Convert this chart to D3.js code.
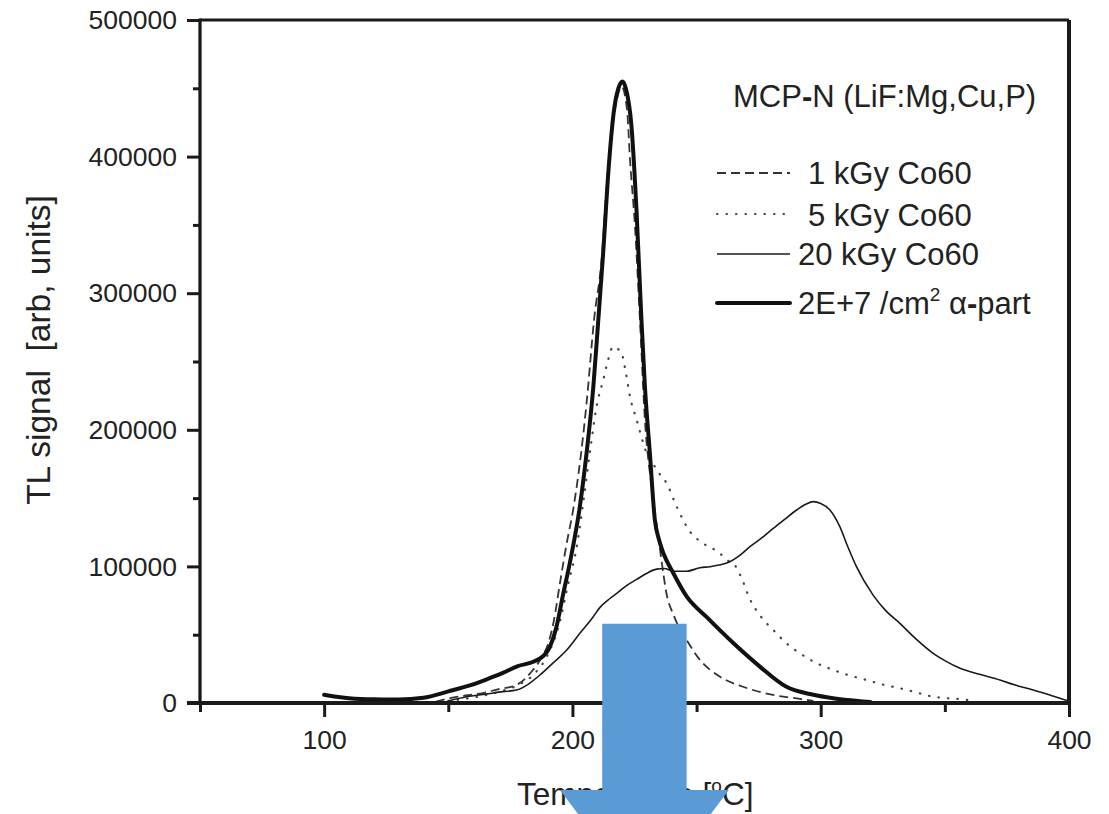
<!DOCTYPE html>
<html>
<head>
<meta charset="utf-8">
<script src="https://cdn.jsdelivr.net/npm/d3@7"></script>
<style>
  html, body { margin: 0; padding: 0; background: #fff; }
  svg text { font-family: "Liberation Sans", Arial, Helvetica, sans-serif; fill: #222; }
</style>
</head>
<body>
<svg id="chart" width="1109" height="814"></svg>
<script>
// Thermoluminescence glow curves of MCP-N (LiF:Mg,Cu,P)
// Temperature in deg C, TL signal in arbitrary units

const kGy1Temp = [145, 150.7, 157, 164, 170, 177.5, 184, 187.5, 190.5, 192.5, 195, 197.5, 200.5, 203.5, 205.7, 208.7, 212, 213.6, 215.4, 217.7, 219.8, 222, 223.2, 225.2, 227.2, 229.2, 231.9, 234.6, 236.6, 237.9, 240.6, 243, 246, 251.4, 259.4, 268.7, 280.8, 291.6, 297];
const kGy1Signal = [1000, 3500, 5500, 7300, 10000, 13200, 24000, 33000, 45000, 60000, 88000, 115000, 143700, 183000, 219600, 280400, 329400, 373400, 410000, 440000, 451200, 434100, 397500, 348700, 280400, 207000, 158300, 121700, 95000, 80000, 65000, 55000, 46000, 31500, 19300, 11900, 5900, 3000, 1500];

const kGy5Temp = [150, 160, 170, 178, 185, 190, 195, 198, 201.7, 204.3, 207, 209.7, 212.4, 214.5, 216.3, 218, 219.8, 221.5, 223.2, 225.9, 229.9, 232.5, 235, 237.9, 242, 247.3, 252.7, 259.4, 262.1, 264.8, 268, 271.5, 276, 280.9, 286, 291.6, 298, 305, 311, 318.5, 325, 331.9, 338, 345.3, 351, 356, 360];
const kGy5Signal = [1500, 4000, 8000, 13000, 22000, 35000, 60000, 85000, 114000, 146000, 183000, 216900, 236500, 252000, 260800, 259500, 256200, 242000, 224200, 207200, 183000, 175000, 168000, 161000, 143700, 125500, 116900, 109600, 104700, 102300, 92000, 76000, 63000, 53400, 44000, 36400, 29500, 24200, 20500, 16800, 13500, 10800, 8000, 4600, 3500, 2900, 2000];

const kGy20Temp = [150, 157.4, 165, 172, 177.5, 182, 186.9, 192, 197.7, 203, 208.4, 211.1, 215.1, 219.1, 221.8, 225.9, 230, 233.9, 237, 240.6, 246, 251.4, 255.4, 259, 263.4, 267, 271.5, 276, 280.9, 285.5, 290.3, 294, 297, 300, 303.7, 307.7, 311, 314.4, 321.1, 326, 331.9, 338, 345.3, 350, 356.1, 364, 372.2, 378, 385.6, 392, 399, 400];
const kGy20Signal = [1500, 4600, 6500, 8300, 9500, 13500, 20500, 29000, 38800, 51000, 63200, 70000, 76500, 82000, 86000, 90500, 95000, 98000, 98500, 96500, 96500, 99000, 99800, 101000, 103400, 107500, 114400, 120500, 127900, 134500, 141300, 145500, 147400, 146000, 141300, 129100, 114000, 99800, 79000, 68000, 58300, 47500, 36400, 31000, 25400, 21000, 16800, 13300, 9500, 6000, 2000, 1500];

const alphaTemp = [100, 105, 110, 120, 130, 140, 150, 158, 165, 172, 178, 184, 188, 190.3, 193.6, 196.3, 199, 203, 205.7, 208.4, 210.4, 212.4, 214.6, 216.6, 218.5, 220.2, 221.5, 223.8, 225.8, 227.8, 229.2, 231.2, 233.2, 234.8, 236.6, 240.6, 246, 254, 265, 275.5, 286, 297, 305, 315, 320];
const alphaSignal = [6000, 4500, 3500, 2700, 2600, 3800, 8500, 12500, 17000, 22000, 27000, 30000, 34000, 39000, 56000, 80000, 103000, 144000, 183000, 231000, 280000, 330000, 392000, 432000, 450000, 455000, 450000, 421900, 360900, 280400, 231500, 182800, 134000, 120000, 109800, 95200, 78000, 63000, 43500, 26600, 12000, 6000, 3500, 1500, 800];

const xMajorTicks = [100, 200, 300, 400];
const xMinorTicks = [50, 150, 250, 350];
const yMajorTicks = [0, 100000, 200000, 300000, 400000, 500000];
const yMinorTicks = [50000, 150000, 250000, 350000, 450000];

const legendLabels = ["1 kGy Co60", "5 kGy Co60", "20 kGy Co60", "2E+7 /cm² α-part"];

const svg = d3.select("#chart");
const plot = { left: 200, right: 1069, top: 20, bottom: 703 };

const x = d3.scaleLinear().domain([50, 400]).range([plot.left, plot.right]);
const y = d3.scaleLinear().domain([0, 500000]).range([plot.bottom, plot.top]);

// axes: major ticks labelled, minor ticks short and unlabelled
const tickFont = "26.5px";
const xAxis = svg.append("g").attr("transform", `translate(0,${plot.bottom})`)
  .call(d3.axisBottom(x).tickValues(xMajorTicks).tickSize(14).tickFormat(d3.format("d")));
const xAxisMinor = svg.append("g").attr("transform", `translate(0,${plot.bottom})`)
  .call(d3.axisBottom(x).tickValues(xMinorTicks).tickSize(9).tickFormat(""));
const yAxis = svg.append("g").attr("transform", `translate(${plot.left},0)`)
  .call(d3.axisLeft(y).tickValues(yMajorTicks).tickSize(13).tickPadding(10).tickFormat(d3.format("d")));
const yAxisMinor = svg.append("g").attr("transform", `translate(${plot.left},0)`)
  .call(d3.axisLeft(y).tickValues(yMinorTicks).tickSize(7).tickFormat(""));

[xAxis, xAxisMinor, yAxis, yAxisMinor].forEach(g => {
  g.select(".domain").remove();
  g.selectAll(".tick line").attr("stroke", "#1a1a1a").attr("stroke-width", 3);
  g.selectAll(".tick text").style("font-size", tickFont).attr("fill", "#222")
    .style("font-family", "'Liberation Sans', Arial, sans-serif");
});
xAxis.selectAll(".tick text").attr("dy", 0).attr("y", 46);
yAxis.selectAll(".tick text").attr("dy", "0.33em");

// data curves
const line = d3.line().x(d => x(d[0])).y(d => y(d[1])).curve(d3.curveMonotoneX);
const zipSeries = (t, v) => t.map((d, i) => [d, v[i]]);

const series = [
  { data: zipSeries(kGy1Temp, kGy1Signal), width: 1.8, dash: "9,5", color: "#333", cap: "butt" },
  { data: zipSeries(kGy5Temp, kGy5Signal), width: 2.2, dash: "0.5,9", color: "#444", cap: "round" },
  { data: zipSeries(kGy20Temp, kGy20Signal), width: 1.6, dash: null, color: "#1a1a1a", cap: "butt" },
  { data: zipSeries(alphaTemp, alphaSignal), width: 4, dash: null, color: "#111", cap: "round" }
];

const curves = svg.append("g");
series.forEach(s => {
  curves.append("path")
    .datum(s.data)
    .attr("d", line)
    .attr("fill", "none")
    .attr("stroke", s.color)
    .attr("stroke-width", s.width)
    .attr("stroke-linejoin", "round")
    .attr("stroke-linecap", s.cap)
    .attr("stroke-dasharray", s.dash);
});

// plot frame
const frame = svg.append("g").attr("stroke", "#1a1a1a").attr("fill", "none");
frame.append("line").attr("x1", plot.left).attr("x2", plot.right).attr("y1", plot.top).attr("y2", plot.top).attr("stroke-width", 3);
frame.append("line").attr("x1", plot.right).attr("x2", plot.right).attr("y1", plot.top).attr("y2", plot.bottom).attr("stroke-width", 4);
frame.append("line").attr("x1", plot.left).attr("x2", plot.left).attr("y1", plot.top - 1.5).attr("y2", plot.bottom).attr("stroke-width", 3.3);
frame.append("line").attr("x1", plot.left - 13).attr("x2", plot.right + 2).attr("y1", plot.bottom).attr("y2", plot.bottom).attr("stroke-width", 4);

// legend
svg.append("text").attr("x", 733).attr("y", 107).style("font-size", "31px")
  .call(t => {
    t.append("tspan").text("MCP");
    t.append("tspan").style("font-weight", "bold").text("-");
    t.append("tspan").text("N (LiF:Mg,Cu,P)");
  });

const legendRows = [
  { sample: 173, base: 184, tx: 808 },
  { sample: 214, base: 226, tx: 808 },
  { sample: 254, base: 265, tx: 798 },
  { sample: 303, base: 314, tx: 798 }
];
legendRows.forEach((r, i) => {
  const s = series[i];
  svg.append("line").attr("x1", 717).attr("x2", 790).attr("y1", r.sample).attr("y2", r.sample)
    .attr("stroke", s.color).attr("stroke-width", s.width)
    .attr("stroke-linecap", s.cap).attr("stroke-dasharray", s.dash);
  const t = svg.append("text").attr("x", r.tx).attr("y", r.base).style("font-size", "31px");
  if (i === 3) {
    t.append("tspan").text("2E+7 /cm");
    t.append("tspan").attr("dy", -13).style("font-size", "19px").text("2");
    t.append("tspan").attr("dy", 13).style("white-space", "pre").text(" α");
    t.append("tspan").style("font-weight", "bold").text("-");
    t.append("tspan").text("part");
  } else {
    t.text(legendLabels[i]);
  }
});

// axis titles
svg.append("text")
  .attr("transform", "translate(50,350) rotate(-90)")
  .attr("text-anchor", "middle")
  .style("font-size", "33.5px")
  .style("white-space", "pre")
  .text("TL signal  [arb, units]");

svg.append("text").attr("x", 517).attr("y", 805).style("font-size", "31.5px")
  .call(t => {
    t.append("tspan").text("Temperature [");
    t.append("tspan").attr("dy", -13).style("font-size", "19px").text("o");
    t.append("tspan").attr("dy", 13).text("C]");
  });

// downward block arrow marking the main peak region
const arrowCenter = 229, arrowTop = 58000;
const shaftHalf = 17, headHalf = 34, headBase = -63700, headTip = -146000;
const arrowPts = [
  [arrowCenter - shaftHalf, arrowTop], [arrowCenter + shaftHalf, arrowTop],
  [arrowCenter + shaftHalf, headBase], [arrowCenter + headHalf, headBase],
  [arrowCenter, headTip],
  [arrowCenter - headHalf, headBase], [arrowCenter - shaftHalf, headBase]
];
svg.append("path")
  .attr("d", d3.line().x(d => x(d[0])).y(d => y(d[1]))(arrowPts) + "Z")
  .attr("fill", "#5B9BD5");
</script>
</body>
</html>
